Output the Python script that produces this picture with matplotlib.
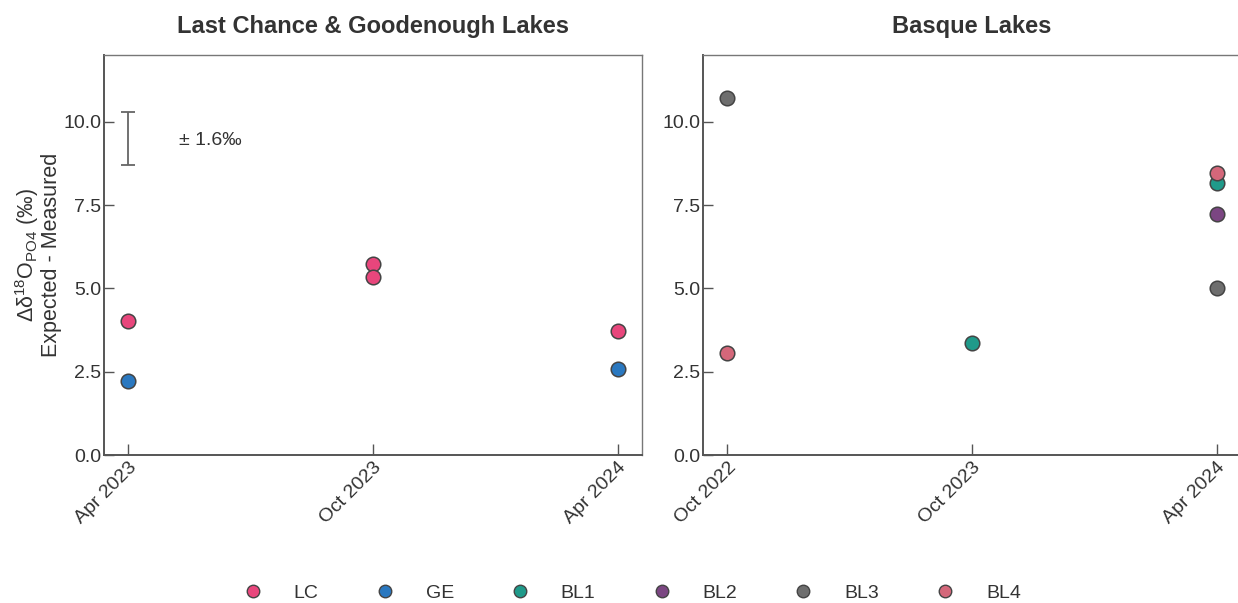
import matplotlib
matplotlib.use("Agg")
import matplotlib.pyplot as plt
from matplotlib.lines import Line2D

plt.rcParams["font.family"] = ["Liberation Sans", "DejaVu Sans"]
plt.rcParams["mathtext.fontset"] = "custom"
plt.rcParams["mathtext.rm"] = "Liberation Sans"
plt.rcParams["mathtext.it"] = "Liberation Sans:italic"

TEXT = "#333333"
SPINE = "#555555"

# Sampling dates (categorical positions)
lc_ge_dates = ["Apr 2023", "Oct 2023", "Apr 2024"]
basque_dates = ["Oct 2022", "Oct 2023", "Apr 2024"]

# Δδ18O_PO4 (expected - measured), ‰
lc_x = [0, 1, 1, 2]
lc_y = [4.03, 5.73, 5.34, 3.72]
ge_x = [0, 2]
ge_y = [2.22, 2.58]

bl1_x = [1, 2]
bl1_y = [3.35, 8.17]
bl2_x = [2]
bl2_y = [7.22]
bl3_x = [0, 2]
bl3_y = [10.72, 5.02]
bl4_x = [0, 2]
bl4_y = [3.05, 8.45]

# Analytical uncertainty bar
err_center = 9.5
err_total = 1.6

series_names = ["LC", "GE", "BL1", "BL2", "BL3", "BL4"]
series_colors = ["#e8467c", "#2a78c0", "#1f9a8a", "#7b4682", "#6e6e6e", "#d4677a"]
colors = dict(zip(series_names, series_colors))

W, H = 1238, 603
fig = plt.figure(figsize=(W / 100, H / 100), dpi=100)
ax1 = fig.add_axes([104 / W, (H - 455) / H, (642 - 104) / W, 400 / H])
ax2 = fig.add_axes([703 / W, (H - 455) / H, (1241 - 703) / W, 400 / H])

def dots(ax, x, y, name):
    ax.scatter(x, y, s=110, color=colors[name], edgecolor="#444444",
               linewidth=1.1, zorder=3)

dots(ax1, lc_x, lc_y, "LC")
dots(ax1, ge_x, ge_y, "GE")
dots(ax2, bl1_x, bl1_y, "BL1")
dots(ax2, bl2_x, bl2_y, "BL2")
dots(ax2, bl3_x, bl3_y, "BL3")
dots(ax2, bl4_x, bl4_y, "BL4")

ax1.errorbar([0], [err_center], yerr=[err_total / 2], color="#666666",
             capsize=5, elinewidth=1.3, capthick=1.3, zorder=2)
ax1.text(0.205, err_center - 0.05, "± 1.6‰", fontsize=14, color=TEXT,
         ha="left", va="center")

for ax, labels, title in [
    (ax1, lc_ge_dates, "Last Chance & Goodenough Lakes"),
    (ax2, basque_dates, "Basque Lakes"),
]:
    ax.set_xlim(-0.1, 2.1)
    ax.set_ylim(0, 12)
    ax.set_yticks([0, 2.5, 5, 7.5, 10])
    ax.set_yticklabels(["0.0", "2.5", "5.0", "7.5", "10.0"])
    ax.set_xticks(range(len(labels)))
    ax.set_xticklabels(labels, rotation=45, ha="right", rotation_mode="anchor")
    ax.tick_params(axis="x", direction="in", length=8, width=1, color=SPINE,
                   labelsize=14, labelcolor=TEXT, pad=3)
    ax.tick_params(axis="y", direction="in", length=7, width=1, color=SPINE,
                   labelsize=14, labelcolor=TEXT, pad=2)
    for side in ["left", "bottom"]:
        ax.spines[side].set_color(SPINE)
        ax.spines[side].set_linewidth(1.4)
    for side in ["top", "right"]:
        ax.spines[side].set_color("#777777")
        ax.spines[side].set_linewidth(1.0)
    ax.set_title(title, fontsize=17, fontweight="bold", color=TEXT, pad=16)

ax1.set_ylabel("Δδ$^{18}$O$_{\\mathrm{PO4}}$ (‰)\nExpected - Measured",
               fontsize=15.5, color=TEXT, labelpad=1, linespacing=1.0)

handles = [Line2D([], [], linestyle="none", marker="o", markersize=9,
                  markerfacecolor=c, markeredgecolor="#444444",
                  markeredgewidth=1.0) for c in series_colors]
fig.legend(handles, series_names, loc="center", bbox_to_anchor=(632 / W, 1 - 593 / H),
           ncol=6, frameon=False, fontsize=14, handletextpad=1.6,
           columnspacing=2.9, labelcolor=TEXT, handlelength=1.0)

fig.savefig("out.png", dpi=100, facecolor="white")
